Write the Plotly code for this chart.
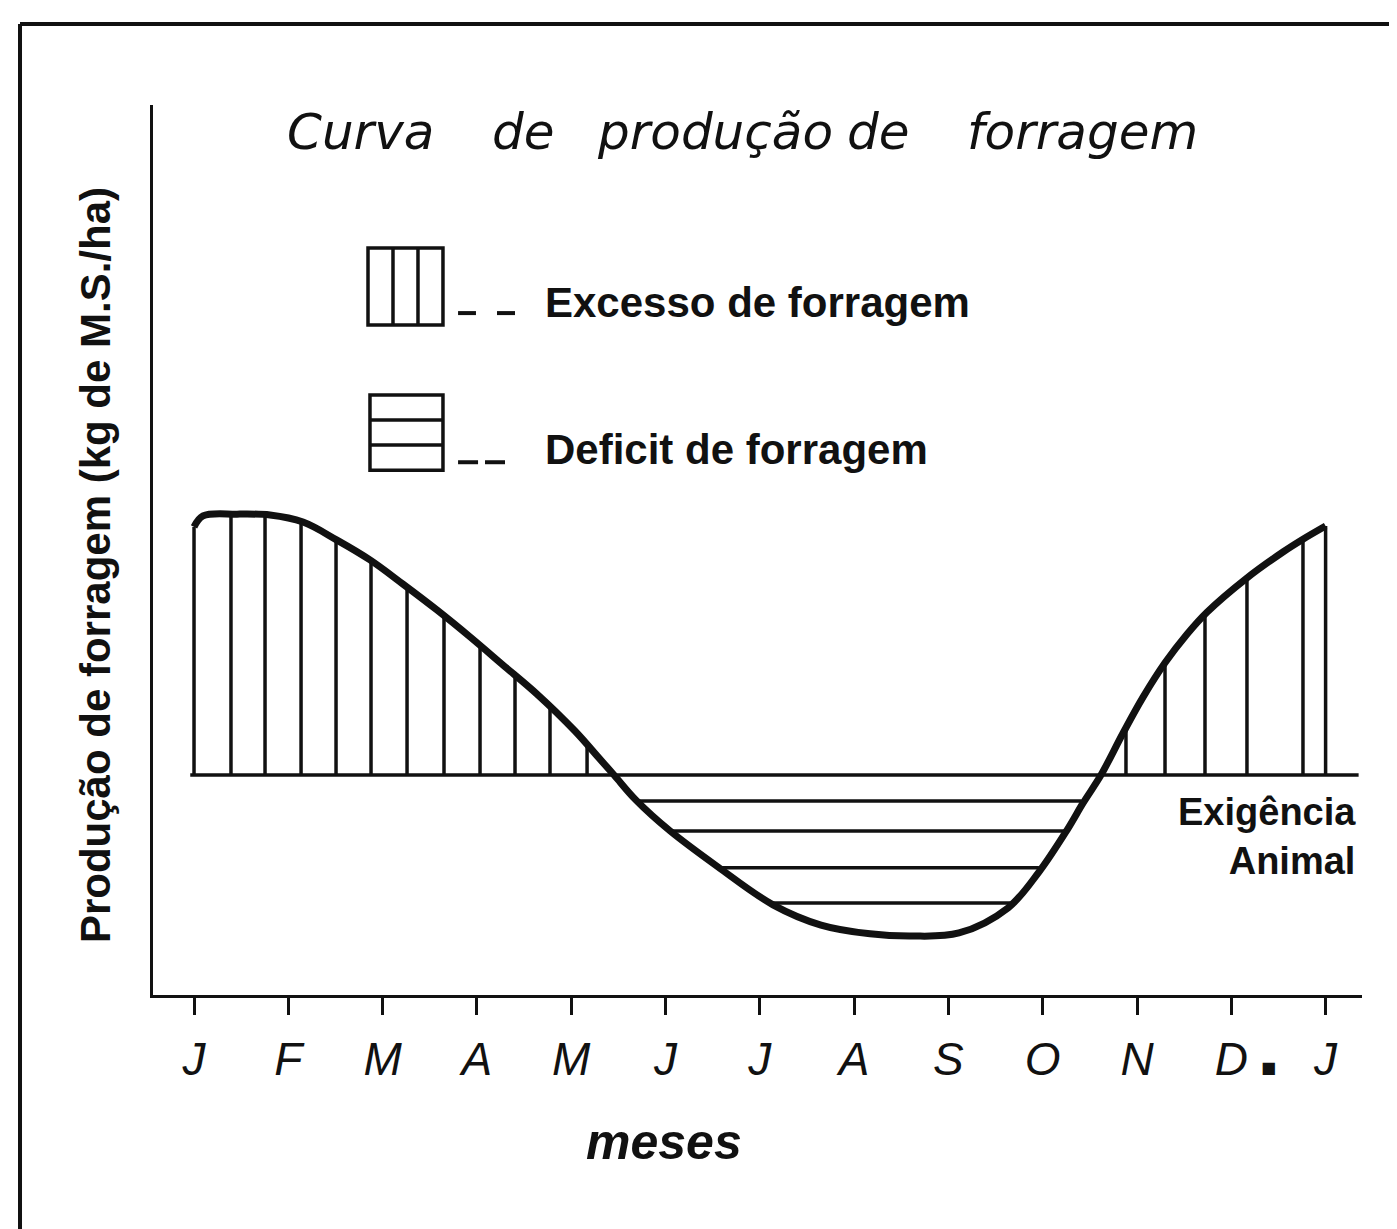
import plotly.graph_objects as go

# month axis (J .. J, one full year)
months = ["J", "F", "M", "A", "M", "J", "J", "A", "S", "O", "N", "D", "J"]
month_pos = list(range(13))

# forage production curve (relative units)
curve_x = [0, 0.095, 0.456, 0.806, 1.156, 1.516, 1.866, 2.216, 2.577, 2.927, 3.277,
           3.637, 4.040, 4.305, 4.454, 4.687, 5.048, 5.557, 6.140, 6.649, 7.169,
           7.603, 8.112, 8.632, 8.961, 9.258, 9.427, 9.618, 9.851, 10.064, 10.297,
           10.530, 10.742, 11.166, 11.548, 11.760, 12.0]
curve_y = [106.4, 108.9, 109.3, 109.1, 107.5, 103.4, 98.9, 93.4, 87.5, 81.4, 75.0,
           68.4, 60.0, 53.6, 50.0, 44.3, 37.3, 29.1, 20.5, 15.9, 13.9,
           13.4, 14.1, 19.8, 28.0, 37.5, 43.6, 50.0, 59.5, 67.7, 75.5,
           82.0, 87.0, 94.8, 100.7, 103.6, 106.6]

# animal requirement level
exigencia = 50

# vertical hatch (excess) positions and their tops
excess_x = [0, 0.392, 0.753, 1.135, 1.506, 1.877, 2.259, 2.651, 3.033, 3.404, 3.775, 4.168,
            9.883, 10.297, 10.721, 11.166, 11.760, 12.0]
excess_top = [106.4, 109.2, 109.1, 107.6, 103.5, 98.8, 92.7, 86.2, 79.8, 72.7, 65.7, 57.0,
              60.5, 75.5, 86.7, 94.8, 103.6, 106.6]

# horizontal hatch (deficit) levels and their extents
deficit_level = [44.1, 37.3, 28.9, 20.9]
deficit_left = [4.70, 5.03, 5.55, 6.12]
deficit_right = [9.41, 9.25, 8.96, 8.66]

INK = "#111111"
X_RANGE = [-0.435, 12.386]
Y_RANGE = [0, 202.3]

fig = go.Figure()

# build hatch segments
hx, hy = [], []
for x, top in zip(excess_x, excess_top):
    hx += [x, x, None]
    hy += [exigencia, top, None]
for lvl, x0, x1 in zip(deficit_level, deficit_left, deficit_right):
    hx += [x0, x1, None]
    hy += [lvl, lvl, None]

fig.add_trace(go.Scatter(x=hx, y=hy, mode="lines",
                         line=dict(color=INK, width=3.5), hoverinfo="skip",
                         showlegend=False))

# requirement line
fig.add_shape(type="line", xref="x", yref="y", x0=-0.04, x1=12.35,
              y0=exigencia, y1=exigencia, line=dict(color=INK, width=3.5))

# production curve
fig.add_trace(go.Scatter(x=curve_x, y=curve_y, mode="lines",
                         line=dict(color=INK, width=7, shape="spline", smoothing=1.0),
                         showlegend=False, name="Produção"))

# legend boxes
box = dict(color=INK, width=3.5)
fig.add_shape(type="rect", x0=1.845, x1=2.64, y0=152.3, y1=169.8, line=box)
for xv in [2.11, 2.375]:
    fig.add_shape(type="line", x0=xv, x1=xv, y0=152.3, y1=169.8, line=box)
fig.add_shape(type="rect", x0=1.866, x1=2.64, y0=119.3, y1=136.4, line=box)
for yv in [125.0, 130.7]:
    fig.add_shape(type="line", x0=1.866, x1=2.64, y0=yv, y1=yv, line=box)

# legend dashes
dash = dict(color=INK, width=4)
for x0, x1 in [(2.80, 2.99), (3.213, 3.404)]:
    fig.add_shape(type="line", x0=x0, x1=x1, y0=155.0, y1=155.0, line=dash)
for x0, x1 in [(2.80, 3.012), (3.086, 3.298)]:
    fig.add_shape(type="line", x0=x0, x1=x1, y0=121.1, y1=121.1, line=dash)

bold = dict(family="Liberation Sans", size=42, color=INK, weight="bold")
fig.add_annotation(x=3.70, y=157.3, text="Excesso de forragem", showarrow=False,
                   xanchor="left", yanchor="middle", font=bold)
fig.add_annotation(x=3.70, y=123.9, text="Deficit de forragem", showarrow=False,
                   xanchor="left", yanchor="middle", font=bold)

# title, word by word as spaced in the original
title_font = dict(family="DejaVu Sans", size=50, color=INK, style="italic")
for word, xw in zip(["Curva", "de", "produção", "de", "forragem"],
                    [0.965, 3.139, 4.252, 6.903, 8.176]):
    fig.add_annotation(x=xw, y=196.1, text=word, showarrow=False,
                       xanchor="left", yanchor="middle", font=title_font)

# requirement label
fig.add_annotation(x=12.34, y=36.0, text="Exigência<br>Animal", showarrow=False,
                   xanchor="right", yanchor="middle", align="right",
                   font=dict(family="Liberation Sans", size=38, color=INK, weight="bold"))

# small mark between D and J
fig.add_annotation(x=11.39, xref="x", y=-0.082, yref="paper", text="■", showarrow=False,
                   xanchor="center", yanchor="middle",
                   font=dict(family="DejaVu Sans", size=16, color=INK))

# axis titles
fig.add_annotation(x=0.4227, xref="paper", y=-0.165, yref="paper", text="meses",
                   showarrow=False, xanchor="center", yanchor="middle",
                   font=dict(family="Liberation Sans", size=50, color=INK,
                             weight="bold", style="italic"))
fig.add_annotation(x=-0.048, xref="paper", y=0.483, yref="paper",
                   text="Produção de forragem (kg de M.S./ha)", showarrow=False,
                   textangle=-90, xanchor="center", yanchor="middle",
                   font=dict(family="Liberation Sans", size=42, color=INK, weight="bold"))

# page frame (top and left edges)
frame = dict(color=INK, width=4)
fig.add_shape(type="line", xref="paper", yref="paper", x0=-0.11, x1=1.03,
              y0=1.091, y1=1.091, line=frame)
fig.add_shape(type="line", xref="paper", yref="paper", x0=-0.11, x1=-0.11,
              y0=1.091, y1=-0.263, line=frame)

fig.update_xaxes(range=X_RANGE, tickvals=month_pos, ticktext=months,
                 ticks="outside", ticklen=17, tickwidth=3, tickcolor=INK,
                 showline=True, linewidth=3, linecolor=INK,
                 showgrid=False, zeroline=False, ticklabelstandoff=5,
                 tickfont=dict(family="Liberation Sans", size=46, color=INK, style="italic"))
fig.update_yaxes(range=Y_RANGE, showline=True, linewidth=3, linecolor=INK,
                 showgrid=False, zeroline=False, showticklabels=False, ticks="")

# page body adds an 8px margin, so the figure is 8px smaller on each axis
fig.update_layout(
    width=1389, height=1221,
    margin=dict(l=145, r=35, t=97, b=234),
    paper_bgcolor="white", plot_bgcolor="white",
    showlegend=False,
)

fig.write_html("out.html")
